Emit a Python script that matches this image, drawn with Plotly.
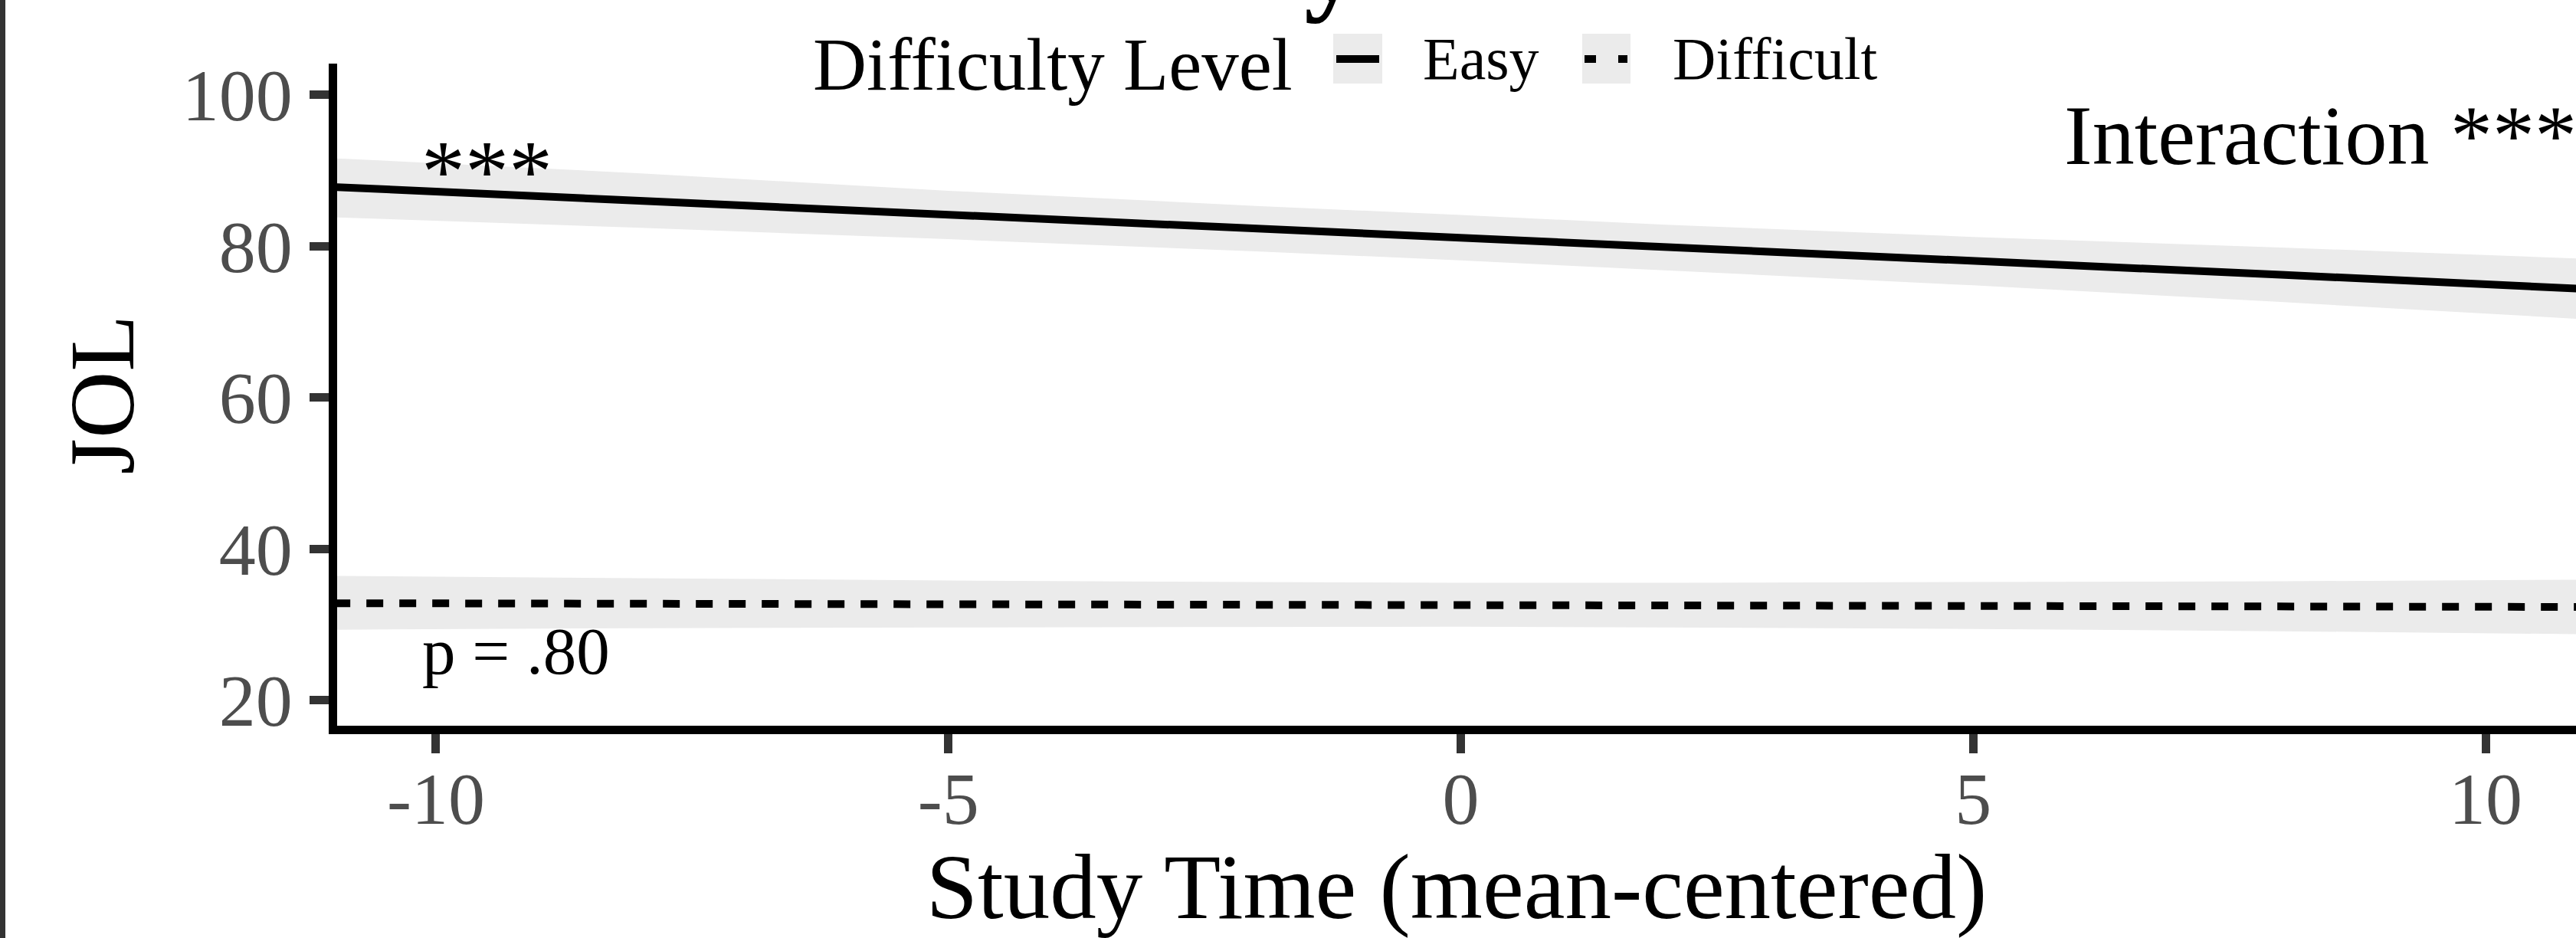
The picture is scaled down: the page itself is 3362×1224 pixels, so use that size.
import plotly.graph_objects as go

# ---------------- data ----------------
study_time = [-11, -8, -5, -2, 0, 2, 5, 8, 11]

easy_fit = [87.8, 86.0, 84.1, 82.3, 81.1, 79.8, 78.0, 76.2, 74.3]
easy_hi = [91.6, 89.6, 87.3, 85.3, 84.1, 82.8, 81.2, 79.8, 78.3]
easy_lo = [83.8, 82.4, 80.9, 79.3, 78.1, 76.8, 74.8, 72.6, 70.3]

diff_fit = [32.8, 32.75, 32.7, 32.65, 32.6, 32.55, 32.5, 32.4, 32.3]
diff_hi = [36.4, 36.1, 35.8, 35.6, 35.5, 35.5, 35.6, 35.7, 35.9]
diff_lo = [29.3, 29.5, 29.6, 29.7, 29.7, 29.6, 29.4, 29.1, 28.7]

x_ticks = [-10, -5, 0, 5, 10]
x_tick_labels = ["-10", "-5", "0", "5", "10"]
y_ticks = [20, 40, 60, 80, 100]
y_tick_labels = ["20", "40", "60", "80", "100"]

series_names = ["Easy", "Difficult"]
legend_title = "Difficulty Level"
x_title = "Study Time (mean-centered)"
y_title = "JOL"

# ---------------- styling ----------------
FONT = "Liberation Serif"
W, H = 3362, 1224
ML, MR, MT, MB = 440, 0, 83, 277
PW, PH = W - ML - MR, H - MT - MB
RIBBON = "#EBEBEB"
LW = 10


def px(xp):
    return (xp - ML) / PW


def py(yp):
    return (H - MB - yp) / PH


fig = go.Figure()

for lo, hi in [(easy_lo, easy_hi), (diff_lo, diff_hi)]:
    fig.add_trace(go.Scatter(x=study_time, y=lo, mode="lines", line=dict(width=0),
                             hoverinfo="skip", showlegend=False))
    fig.add_trace(go.Scatter(x=study_time, y=hi, mode="lines", line=dict(width=0),
                             fill="tonexty", fillcolor=RIBBON, hoverinfo="skip",
                             showlegend=False))

fig.add_trace(go.Scatter(x=study_time, y=easy_fit, mode="lines", name=series_names[0],
                         line=dict(color="black", width=LW), showlegend=False))
fig.add_trace(go.Scatter(x=study_time, y=diff_fit, mode="lines", name=series_names[1],
                         line=dict(color="black", width=LW, dash="22px,21px"),
                         showlegend=False))

axis_common = dict(
    showgrid=False, zeroline=False, showline=True, linecolor="black", linewidth=11,
    ticks="outside", ticklen=25, tickwidth=11, tickcolor="#333333", automargin=False,
    tickfont=dict(family=FONT, size=96, color="#4D4D4D"),
)

fig.update_xaxes(range=[-10.964, 10.882], tickvals=x_ticks, ticktext=x_tick_labels,
                 ticklabelstandoff=-23,
                 title=dict(text=x_title, font=dict(family=FONT, size=121, color="black"),
                            standoff=48),
                 **axis_common)
fig.update_yaxes(range=[16.61, 104.10], tickvals=y_ticks, ticktext=y_tick_labels,
                 ticklabelstandoff=3,
                 title=dict(text=y_title, font=dict(family=FONT, size=121, color="black"),
                            standoff=27),
                 **axis_common)

annotations = [
    dict(x=-10.16, y=89.9, xref="x", yref="y", text="***", showarrow=False,
         xanchor="left", yanchor="middle", font=dict(family=FONT, size=114, color="black")),
    dict(x=5.873, y=94.58, xref="x", yref="y", text="Interaction ***", showarrow=False,
         xanchor="left", yanchor="middle", font=dict(family=FONT, size=110, color="black")),
    dict(x=-10.15, y=26.53, xref="x", yref="y", text="p = .80", showarrow=False,
         xanchor="left", yanchor="middle", font=dict(family=FONT, size=87, color="black")),
    # legend texts
    dict(x=px(1059), y=py(84), xref="paper", yref="paper", text=legend_title,
         showarrow=False, xanchor="left", yanchor="middle",
         font=dict(family=FONT, size=97, color="black")),
    dict(x=px(1855), y=py(76), xref="paper", yref="paper", text=series_names[0],
         showarrow=False, xanchor="left", yanchor="middle",
         font=dict(family=FONT, size=78, color="black")),
    dict(x=px(2181), y=py(76), xref="paper", yref="paper", text=series_names[1],
         showarrow=False, xanchor="left", yanchor="middle",
         font=dict(family=FONT, size=78, color="black")),
    # clipped title fragment at the top edge
    dict(x=px(1700), y=py(-49), xref="paper", yref="paper", text="<b>y</b>",
         showarrow=False, xanchor="left", yanchor="middle",
         font=dict(family=FONT, size=145, color="black")),
]

shapes = [
    # dark border strip on the left edge
    dict(type="rect", xref="paper", yref="paper", x0=px(0), x1=px(7), y0=py(H), y1=py(0),
         fillcolor="#333333", line=dict(width=0)),
    # legend keys
    dict(type="rect", xref="paper", yref="paper", x0=px(1740), x1=px(1804), y0=py(109),
         y1=py(44), fillcolor=RIBBON, line=dict(width=0)),
    dict(type="line", xref="paper", yref="paper", x0=px(1744), x1=px(1800), y0=py(77),
         y1=py(77), line=dict(color="black", width=LW)),
    dict(type="rect", xref="paper", yref="paper", x0=px(2065), x1=px(2128), y0=py(109),
         y1=py(44), fillcolor=RIBBON, line=dict(width=0)),
    dict(type="line", xref="paper", yref="paper", x0=px(2068), x1=px(2124), y0=py(77),
         y1=py(77), line=dict(color="black", width=LW, dash="15px,29px")),
]

fig.update_layout(
    width=W, height=H,
    margin=dict(l=ML, r=MR, t=MT, b=MB, pad=0, autoexpand=False),
    paper_bgcolor="white", plot_bgcolor="white",
    showlegend=False,
    annotations=annotations, shapes=shapes,
    font=dict(family=FONT),
)

fig.write_html("out.html", config={"displayModeBar": False},
               post_script="document.body.style.margin='0px';")
